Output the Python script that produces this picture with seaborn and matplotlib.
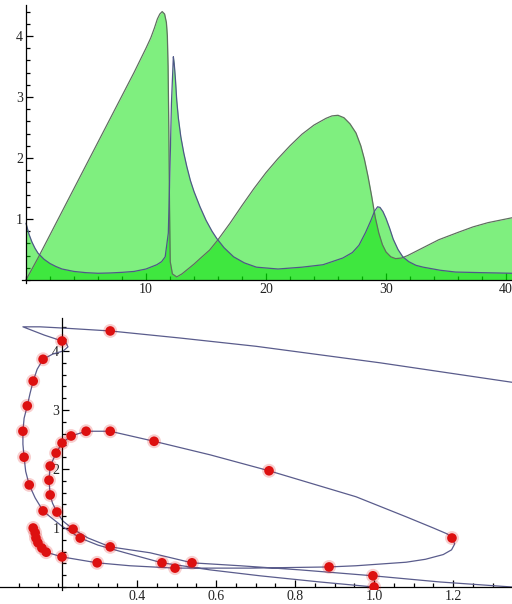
import numpy as np
import pandas as pd
import seaborn as sns
import matplotlib.pyplot as plt
from matplotlib.ticker import FixedLocator, MultipleLocator

# -------------------------------
# Data
# -------------------------------
# top panel: two time series, both filled down to the axis
t_prey = [0, 1, 2, 3, 4, 5, 6, 7, 8, 9, 10, 10.4, 10.7, 10.95, 11.15, 11.35, 11.55,
          11.7, 11.78, 11.84, 11.9, 11.96, 12.02, 12.2, 12.56, 13.0, 13.5, 14.0,
          14.5, 15.3, 16, 17, 18, 19, 20, 21, 22, 23, 24, 25, 25.5, 26, 26.5, 27,
          27.5, 27.9, 28.2, 28.5, 28.8, 29.1, 29.4, 29.7, 30.0, 30.4, 30.8, 31.3,
          31.8, 33, 34.4, 36, 37.25, 38.5, 40.5]
prey = [0.0, 0.36, 0.74, 1.12, 1.50, 1.88, 2.26, 2.64, 3.02, 3.40, 3.80, 3.97, 4.13,
        4.28, 4.36, 4.40, 4.36, 4.22, 4.0, 3.5, 2.5, 1.2, 0.3, 0.1, 0.05, 0.1, 0.18,
        0.26, 0.35, 0.49, 0.66, 0.93, 1.22, 1.50, 1.76, 1.99, 2.2, 2.39, 2.54, 2.65,
        2.69, 2.70, 2.66, 2.56, 2.41, 2.2, 1.98, 1.7, 1.38, 1.03, 0.77, 0.58, 0.46,
        0.38, 0.35, 0.36, 0.40, 0.52, 0.66, 0.78, 0.87, 0.94, 1.02]

t_pred = [0, 0.25, 0.5, 0.75, 1, 1.5, 2, 2.5, 3, 4, 5, 6, 7, 8, 9, 10, 10.9, 11.3,
          11.6, 11.86, 12.0, 12.12, 12.28, 12.35, 12.45, 12.56, 12.7, 12.9, 13.15,
          13.4, 13.7, 14.0, 14.5, 15.0, 15.5, 15.9, 16.5, 17.3, 18.2, 19.2, 21, 23,
          24.75, 26.4, 27.2, 27.75, 28.3, 28.75, 29.05, 29.3, 29.5, 29.75, 30.0,
          30.3, 30.6, 31.0, 31.4, 31.9, 32.5, 33.1, 34.5, 35.8, 38, 40.5]
pred = [0.93, 0.75, 0.62, 0.52, 0.44, 0.34, 0.27, 0.22, 0.18, 0.14, 0.12, 0.11,
        0.115, 0.125, 0.14, 0.18, 0.25, 0.30, 0.38, 0.77, 1.85, 2.9, 3.66, 3.55,
        3.3, 2.95, 2.65, 2.35, 2.08, 1.86, 1.63, 1.45, 1.2, 0.98, 0.8, 0.68, 0.53,
        0.38, 0.28, 0.21, 0.18, 0.21, 0.25, 0.36, 0.45, 0.57, 0.78, 0.98, 1.13, 1.2,
        1.19, 1.12, 1.01, 0.85, 0.67, 0.5, 0.38, 0.3, 0.24, 0.21, 0.16, 0.13, 0.12,
        0.11]

# bottom panel: phase trajectory (in time order) and the sampled points
path_x = [1.00, 0.863, 0.711, 0.585, 0.463, 0.370, 0.301, 0.256, 0.210, 0.180, 0.162,
          0.142, 0.127, 0.118, 0.114, 0.111, 0.111, 0.114, 0.122, 0.129, 0.137, 0.147,
          0.162, 0.187, 0.213, 0.225, 0.220, 0.210, 0.165, 0.111, 0.154, 0.210, 0.332,
          0.509, 0.701, 1.015, 1.349, 1.60, 2.40, 3.40, 2.50, 1.70,
          1.349, 1.167, 0.997, 0.813, 0.661, 0.539, 0.433, 0.332, 0.276, 0.238, 0.212,
          0.197, 0.186, 0.180, 0.177, 0.180, 0.195, 0.210, 0.233, 0.271, 0.332, 0.443,
          0.585, 0.734, 0.954, 1.081, 1.150, 1.185, 1.197, 1.204, 1.196, 1.175, 1.13,
          1.081, 0.954, 0.886, 0.686, 0.496, 0.382, 0.299, 0.210, 0.170, 0.159, 0.149,
          0.144, 0.142, 0.137]
path_y = [0.00, 0.085, 0.19, 0.29, 0.41, 0.58, 0.71, 0.83, 1.03, 1.19, 1.29,
          1.51, 1.73, 1.96, 2.20, 2.42, 2.64, 2.86, 3.07, 3.28, 3.49, 3.69,
          3.86, 3.95, 4.00, 4.07, 4.14, 4.17, 4.27, 4.41, 4.41, 4.39, 4.34,
          4.22, 4.08, 3.80, 3.47, 3.15, 2.0, 0.6, 0.1, 0.01,
          0.0, 0.085, 0.19, 0.29, 0.36, 0.41, 0.58, 0.68, 0.83, 0.98, 1.12,
          1.27, 1.42, 1.56, 1.81, 2.05, 2.27, 2.44, 2.56, 2.64, 2.64, 2.47,
          2.24, 1.97, 1.53, 1.19, 1.0, 0.9, 0.83, 0.73, 0.63, 0.55, 0.47,
          0.42, 0.36, 0.34, 0.32, 0.32, 0.36, 0.41, 0.51, 0.59, 0.66, 0.75,
          0.83, 0.92, 1.0]

dot_x = [1.0, 0.463, 0.256, 0.162, 0.127, 0.114, 0.111, 0.122, 0.137, 0.162, 0.210,
         0.332, 0.997, 0.539, 0.332, 0.238, 0.197, 0.180, 0.177, 0.180, 0.195, 0.210,
         0.233, 0.271, 0.332, 0.443, 0.734, 1.197, 0.886, 0.496, 0.299, 0.210, 0.170,
         0.159, 0.149, 0.144, 0.142, 0.137]
dot_y = [0.0, 0.41, 0.83, 1.29, 1.73, 2.20, 2.64, 3.07, 3.49, 3.86, 4.17,
         4.34, 0.19, 0.41, 0.68, 0.98, 1.27, 1.56, 1.81, 2.05, 2.27, 2.44,
         2.56, 2.64, 2.64, 2.47, 1.97, 0.83, 0.34, 0.32, 0.41, 0.51, 0.59,
         0.66, 0.75, 0.83, 0.92, 1.0]

# -------------------------------
# Style
# -------------------------------
sns.set_style("white")
plt.rcParams['font.family'] = ['Liberation Serif', 'DejaVu Serif']
plt.rcParams['xtick.bottom'] = True
plt.rcParams['ytick.left'] = True
plt.rcParams['xtick.minor.visible'] = True
plt.rcParams['ytick.minor.visible'] = True

fill_col = '#00e100'
prey_line = '#5f705f'
pred_line = '#4f5888'
path_col = '#5a5c8c'
dot_col = '#dd1010'


def math_axes(ax, origin_x, origin_y):
    # Mathematica-like axes: two crossing lines, ticks pointing in
    for side in ['top', 'right']:
        ax.spines[side].set_visible(False)
    ax.spines['left'].set_position(('data', origin_x))
    ax.spines['bottom'].set_position(('data', origin_y))
    for side in ['left', 'bottom']:
        ax.spines[side].set_linewidth(0.9)
        ax.spines[side].set_color('black')
    ax.tick_params(which='both', direction='in', color='black', width=0.9,
                   bottom=True, left=True, top=False, right=False)
    ax.tick_params(which='major', length=5, labelsize=10, pad=2,
                   labelcolor='#222222')
    ax.tick_params(which='minor', length=3)
    ax.set_xlabel('')
    ax.set_ylabel('')
    ax.grid(False)


fig = plt.figure(figsize=(5.12, 6.04), dpi=100)

# -------------------------------
# Top: filled time series
# -------------------------------
ax1 = fig.add_axes([0.04375, 0.5314, 0.95625, 0.4595])
ax1.fill_between(t_prey, prey, 0, color=fill_col, alpha=0.5, lw=0)
ax1.fill_between(t_pred, pred, 0, color=fill_col, alpha=0.5, lw=0)
sns.lineplot(x=t_prey, y=prey, ax=ax1, color=prey_line, lw=0.9, estimator=None)
sns.lineplot(x=t_pred, y=pred, ax=ax1, color=pred_line, lw=0.9, estimator=None)
ax1.set_xlim(-0.3, 40.5)
ax1.set_ylim(-0.05, 4.5)
math_axes(ax1, 0, 0)
ax1.xaxis.set_major_locator(FixedLocator([10, 20, 30, 40]))
ax1.xaxis.set_minor_locator(MultipleLocator(2))
ax1.yaxis.set_major_locator(FixedLocator([1, 2, 3, 4]))
ax1.yaxis.set_minor_locator(MultipleLocator(0.2))

# -------------------------------
# Bottom: phase portrait with sample points
# -------------------------------
ax2 = fig.add_axes([0.0, 0.02326, 1.0, 0.4503])
path = pd.DataFrame({'x': path_x, 'y': path_y})
sns.lineplot(data=path, x='x', y='y', ax=ax2, sort=False, estimator=None,
             color=path_col, lw=0.9)
sns.scatterplot(x=dot_x, y=dot_y, ax=ax2, s=100, color=dot_col, alpha=0.2,
                edgecolor='none', zorder=3)
sns.scatterplot(x=dot_x, y=dot_y, ax=ax2, s=48, color=dot_col,
                edgecolor='none', zorder=4)
ax2.set_xlim(0.053, 1.349)
ax2.set_ylim(-0.05, 4.56)
math_axes(ax2, 0.21, 0)
ax2.xaxis.set_major_locator(FixedLocator([0.4, 0.6, 0.8, 1.0, 1.2]))
ax2.xaxis.set_minor_locator(MultipleLocator(0.05))
ax2.yaxis.set_major_locator(FixedLocator([1, 2, 3, 4]))
ax2.yaxis.set_minor_locator(MultipleLocator(0.2))
ax2.set_xticklabels(['0.4', '0.6', '0.8', '1.0', '1.2'])

fig.savefig('out.png', dpi=100)
